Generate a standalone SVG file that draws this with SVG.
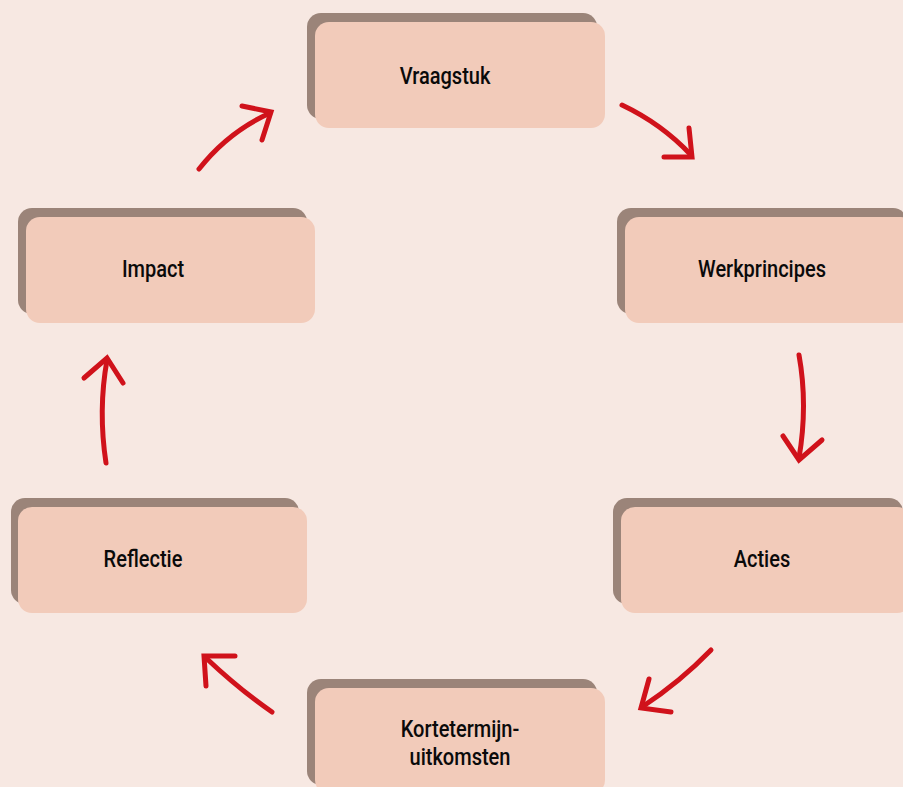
<svg xmlns="http://www.w3.org/2000/svg" width="903" height="787" viewBox="0 0 903 787">
<style>
.sh{fill:#9b8479}
.fr{fill:#f2cbba}
.lb{font-family:"Roboto","Liberation Sans",sans-serif;font-size:23px;fill:#0a0a0a;text-anchor:middle;font-weight:500}
.ar{fill:none;stroke:#d0121b;stroke-width:5;stroke-linecap:round;stroke-linejoin:miter}
</style>
<rect width="903" height="787" fill="#f7e8e2"/>
<g id="vraagstuk">
<rect class="sh" x="307" y="13" width="290" height="106" rx="14"/>
<rect class="fr" x="315" y="22" width="290" height="106" rx="14"/>
<text class="lb" transform="translate(445 84) scale(0.87 1)">Vraagstuk</text>
</g>
<g id="werkprincipes">
<rect class="sh" x="617" y="208" width="290" height="106" rx="14"/>
<rect class="fr" x="625" y="217" width="290" height="106" rx="14"/>
<text class="lb" transform="translate(762 277) scale(0.87 1)">Werkprincipes</text>
</g>
<g id="acties">
<rect class="sh" x="613" y="498" width="290" height="106" rx="14"/>
<rect class="fr" x="621" y="507" width="290" height="106" rx="14"/>
<text class="lb" transform="translate(762 567) scale(0.87 1)">Acties</text>
</g>
<g id="kortetermijn">
<rect class="sh" x="307" y="679" width="290" height="106" rx="14"/>
<rect class="fr" x="315" y="688" width="290" height="106" rx="14"/>
<text class="lb" transform="translate(460 737) scale(0.87 1)">Kortetermijn-</text>
<text class="lb" transform="translate(460 765) scale(0.87 1)">uitkomsten</text>
</g>
<g id="reflectie">
<rect class="sh" x="11" y="498" width="288" height="106" rx="14"/>
<rect class="fr" x="18" y="507" width="289" height="106" rx="14"/>
<text class="lb" transform="translate(143 567) scale(0.87 1)">Reflectie</text>
</g>
<g id="impact">
<rect class="sh" x="18" y="208" width="289" height="106" rx="14"/>
<rect class="fr" x="26" y="217" width="289" height="106" rx="14"/>
<text class="lb" transform="translate(153 277) scale(0.87 1)">Impact</text>
</g>
<g id="connectors">
<path class="ar" d="M199 169 Q228 132 270 113"/>
<path class="ar" d="M242 106 L271 112 L262 140"/>
<path class="ar" d="M622 105 Q662 124 691 155"/>
<path class="ar" d="M689 128 L692 157 L664 157"/>
<path class="ar" d="M799 355 Q808 405 799 458"/>
<path class="ar" d="M783 436 L799 460 L822 440"/>
<path class="ar" d="M711 650 Q680 682 642 707"/>
<path class="ar" d="M649 679 L641 708 L671 712"/>
<path class="ar" d="M272 712 Q240 690 206 658"/>
<path class="ar" d="M235 656 L204 656 L206 686"/>
<path class="ar" d="M106 463 Q98 410 107 360"/>
<path class="ar" d="M84 378 L107 358 L123 383"/>
</g>
</svg>
